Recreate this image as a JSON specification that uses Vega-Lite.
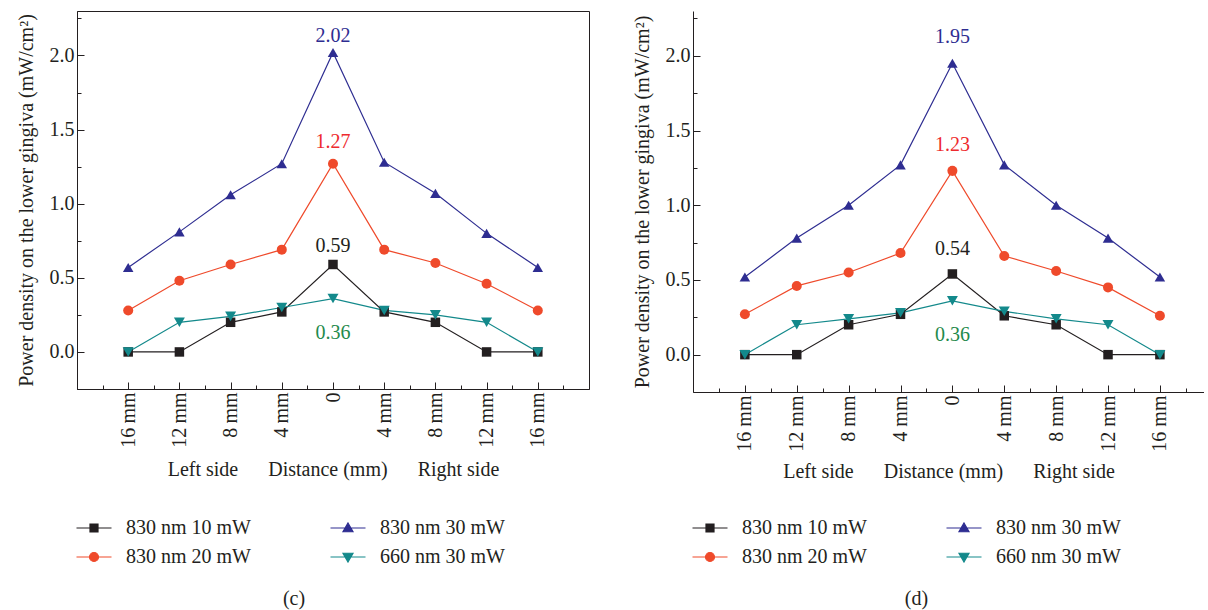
{
  "$schema": "https://vega.github.io/schema/vega-lite/v6.json",
  "padding": {"left": 15, "top": 10, "right": 0, "bottom": 0},
  "datasets": {
    "c": [
      {"x": -16, "s": "830 nm 10 mW", "v": 0}, {"x": -12, "s": "830 nm 10 mW", "v": 0}, {"x": -8, "s": "830 nm 10 mW", "v": 0.2}, {"x": -4, "s": "830 nm 10 mW", "v": 0.27}, {"x": 0, "s": "830 nm 10 mW", "v": 0.59}, {"x": 4, "s": "830 nm 10 mW", "v": 0.27}, {"x": 8, "s": "830 nm 10 mW", "v": 0.2}, {"x": 12, "s": "830 nm 10 mW", "v": 0}, {"x": 16, "s": "830 nm 10 mW", "v": 0},
      {"x": -16, "s": "830 nm 20 mW", "v": 0.28}, {"x": -12, "s": "830 nm 20 mW", "v": 0.48}, {"x": -8, "s": "830 nm 20 mW", "v": 0.59}, {"x": -4, "s": "830 nm 20 mW", "v": 0.69}, {"x": 0, "s": "830 nm 20 mW", "v": 1.27}, {"x": 4, "s": "830 nm 20 mW", "v": 0.69}, {"x": 8, "s": "830 nm 20 mW", "v": 0.6}, {"x": 12, "s": "830 nm 20 mW", "v": 0.46}, {"x": 16, "s": "830 nm 20 mW", "v": 0.28},
      {"x": -16, "s": "830 nm 30 mW", "v": 0.57}, {"x": -12, "s": "830 nm 30 mW", "v": 0.81}, {"x": -8, "s": "830 nm 30 mW", "v": 1.06}, {"x": -4, "s": "830 nm 30 mW", "v": 1.27}, {"x": 0, "s": "830 nm 30 mW", "v": 2.02}, {"x": 4, "s": "830 nm 30 mW", "v": 1.28}, {"x": 8, "s": "830 nm 30 mW", "v": 1.07}, {"x": 12, "s": "830 nm 30 mW", "v": 0.8}, {"x": 16, "s": "830 nm 30 mW", "v": 0.57},
      {"x": -16, "s": "660 nm 30 mW", "v": 0}, {"x": -12, "s": "660 nm 30 mW", "v": 0.2}, {"x": -8, "s": "660 nm 30 mW", "v": 0.24}, {"x": -4, "s": "660 nm 30 mW", "v": 0.3}, {"x": 0, "s": "660 nm 30 mW", "v": 0.36}, {"x": 4, "s": "660 nm 30 mW", "v": 0.28}, {"x": 8, "s": "660 nm 30 mW", "v": 0.25}, {"x": 12, "s": "660 nm 30 mW", "v": 0.2}, {"x": 16, "s": "660 nm 30 mW", "v": 0}
    ],
    "d": [
      {"x": -16, "s": "830 nm 10 mW", "v": 0}, {"x": -12, "s": "830 nm 10 mW", "v": 0}, {"x": -8, "s": "830 nm 10 mW", "v": 0.2}, {"x": -4, "s": "830 nm 10 mW", "v": 0.27}, {"x": 0, "s": "830 nm 10 mW", "v": 0.54}, {"x": 4, "s": "830 nm 10 mW", "v": 0.26}, {"x": 8, "s": "830 nm 10 mW", "v": 0.2}, {"x": 12, "s": "830 nm 10 mW", "v": 0}, {"x": 16, "s": "830 nm 10 mW", "v": 0},
      {"x": -16, "s": "830 nm 20 mW", "v": 0.27}, {"x": -12, "s": "830 nm 20 mW", "v": 0.46}, {"x": -8, "s": "830 nm 20 mW", "v": 0.55}, {"x": -4, "s": "830 nm 20 mW", "v": 0.68}, {"x": 0, "s": "830 nm 20 mW", "v": 1.23}, {"x": 4, "s": "830 nm 20 mW", "v": 0.66}, {"x": 8, "s": "830 nm 20 mW", "v": 0.56}, {"x": 12, "s": "830 nm 20 mW", "v": 0.45}, {"x": 16, "s": "830 nm 20 mW", "v": 0.26},
      {"x": -16, "s": "830 nm 30 mW", "v": 0.52}, {"x": -12, "s": "830 nm 30 mW", "v": 0.78}, {"x": -8, "s": "830 nm 30 mW", "v": 1.0}, {"x": -4, "s": "830 nm 30 mW", "v": 1.27}, {"x": 0, "s": "830 nm 30 mW", "v": 1.95}, {"x": 4, "s": "830 nm 30 mW", "v": 1.27}, {"x": 8, "s": "830 nm 30 mW", "v": 1.0}, {"x": 12, "s": "830 nm 30 mW", "v": 0.78}, {"x": 16, "s": "830 nm 30 mW", "v": 0.52},
      {"x": -16, "s": "660 nm 30 mW", "v": 0}, {"x": -12, "s": "660 nm 30 mW", "v": 0.2}, {"x": -8, "s": "660 nm 30 mW", "v": 0.24}, {"x": -4, "s": "660 nm 30 mW", "v": 0.28}, {"x": 0, "s": "660 nm 30 mW", "v": 0.36}, {"x": 4, "s": "660 nm 30 mW", "v": 0.29}, {"x": 8, "s": "660 nm 30 mW", "v": 0.24}, {"x": 12, "s": "660 nm 30 mW", "v": 0.2}, {"x": 16, "s": "660 nm 30 mW", "v": 0}
    ]
  },
  "hconcat": [
    {
      "width": 512,
      "height": 378,
      "data": {"name": "c"},
      "title": {"text": "(c)", "orient": "bottom", "offset": 22, "dx": -39},
      "resolve": {"scale": {"shape": "independent", "fill": "independent", "stroke": "independent", "size": "independent"}},
      "encoding": {
        "x": {"field": "x", "type": "quantitative", "scale": {"domain": [-20, 20], "nice": false, "zero": false},
          "axis": {"values": [-18,-16,-14,-12,-10,-8,-6,-4,-2,0,2,4,6,8,10,12,14,16,18],
            "labelExpr": "datum.value % 4 !== 0 ? '' : datum.value === 0 ? '0' : abs(datum.value) + '\u2009mm'",
            "labelAngle": -90, "labelAlign": "right", "labelBaseline": "middle",
            "tickSize": {"condition": {"test": "datum.value % 4 !== 0", "value": -4}, "value": -7},
            "labelPadding": 10,
            "title": "Left side\u00a0\u00a0\u00a0\u00a0\u00a0\u00a0Distance (mm)\u00a0\u00a0\u00a0\u00a0\u00a0\u00a0Right side",
            "titlePadding": 12}},
        "y": {"field": "v", "type": "quantitative", "scale": {"domain": [-0.25, 2.3], "nice": false, "zero": false},
          "axis": {"values": [-0.25,0,0.25,0.5,0.75,1,1.25,1.5,1.75,2,2.25],
            "labelExpr": "datum.value % 0.5 !== 0 ? '' : format(datum.value, '.1f')",
            "tickSize": {"condition": {"test": "datum.value % 0.5 !== 0", "value": -4}, "value": -7},
            "labelPadding": 10,
            "title": "Power density on the lower gingiva (mW/cm²)",
            "titlePadding": 13}},
        "color": {"field": "s", "type": "nominal", "legend": null,
          "scale": {"domain": ["830 nm 10 mW", "830 nm 20 mW", "830 nm 30 mW", "660 nm 30 mW"], "range": ["#231f20", "#ef4a2b", "#2e2d91", "#13898b"]}}
      },
      "layer": [
        {"mark": {"type": "line", "strokeWidth": 1.2}},
        {"mark": {"type": "point", "filled": true, "opacity": 1},
          "encoding": {
            "shape": {"field": "s", "type": "nominal", "legend": null,
              "scale": {"domain": ["830 nm 10 mW", "830 nm 20 mW", "830 nm 30 mW", "660 nm 30 mW"], "range": ["square", "circle", "triangle-up", "triangle-down"]}},
            "size": {"field": "s", "type": "nominal", "legend": null,
              "scale": {"domain": ["830 nm 10 mW", "830 nm 20 mW", "830 nm 30 mW", "660 nm 30 mW"], "range": [90, 121, 170, 170]}}}},
        {"transform": [{"filter": "false"}],
          "mark": {"type": "point", "filled": true, "opacity": 1},
          "encoding": {
            "fill": {"field": "s", "type": "nominal",
              "scale": {"domain": ["830 nm 10 mW", "830 nm 20 mW", "830 nm 30 mW", "660 nm 30 mW"], "range": ["#231f20", "#ef4a2b", "#2e2d91", "#13898b"]},
              "legend": {"orient": "none", "legendX": 7, "legendY": 507, "columns": 2, "columnPadding": 77, "rowPadding": 9, "symbolSize": 100, "symbolStrokeWidth": 1.2, "labelOffset": 22, "title": null, "padding": 0}},
            "stroke": {"field": "s", "type": "nominal",
              "scale": {"domain": ["830 nm 10 mW", "830 nm 20 mW", "830 nm 30 mW", "660 nm 30 mW"], "range": ["#231f20", "#ef4a2b", "#2e2d91", "#13898b"]},
              "legend": {"orient": "none", "legendX": 7, "legendY": 507, "columns": 2, "columnPadding": 77, "rowPadding": 9, "symbolSize": 100, "symbolStrokeWidth": 1.2, "labelOffset": 22, "title": null, "padding": 0}},
            "shape": {"field": "s", "type": "nominal",
              "scale": {"domain": ["830 nm 10 mW", "830 nm 20 mW", "830 nm 30 mW", "660 nm 30 mW"], "range": ["M-3.5,0H3.5M-0.8,-0.8H0.8V0.8H-0.8Z", "M-3.5,0H3.5M-0.9,0A0.9,0.9,0,1,0,0.9,0A0.9,0.9,0,1,0,-0.9,0Z", "M-3.5,0H3.5M0,-1L1,0.75L-1,0.75Z", "M-3.5,0H3.5M0,1L1,-0.75L-1,-0.75Z"]},
              "legend": {"orient": "none", "legendX": 7, "legendY": 507, "columns": 2, "columnPadding": 77, "rowPadding": 9, "symbolSize": 100, "symbolStrokeWidth": 1.2, "labelOffset": 22, "title": null, "padding": 0}}}},
        {"transform": [{"filter": "datum.x === 0 && datum.s === '830 nm 30 mW'"}],
          "mark": {"type": "text", "baseline": "bottom", "dy": -7, "fontSize": 20},
          "encoding": {"text": {"field": "v", "format": ".2f"}, "color": {"value": "#2e2d91"}}},
        {"transform": [{"filter": "datum.x === 0 && datum.s === '830 nm 20 mW'"}],
          "mark": {"type": "text", "baseline": "bottom", "dy": -12, "fontSize": 20},
          "encoding": {"text": {"field": "v", "format": ".2f"}, "color": {"value": "#ee2a2e"}}},
        {"transform": [{"filter": "datum.x === 0 && datum.s === '830 nm 10 mW'"}],
          "mark": {"type": "text", "baseline": "bottom", "dy": -8, "fontSize": 20},
          "encoding": {"text": {"field": "v", "format": ".2f"}, "color": {"value": "#231f20"}}},
        {"transform": [{"filter": "datum.x === 0 && datum.s === '660 nm 30 mW'"}],
          "mark": {"type": "text", "baseline": "top", "dy": 24, "fontSize": 20},
          "encoding": {"text": {"field": "v", "format": ".2f"}, "color": {"value": "#1f8a4c"}}}
      ]
    },
    {
      "width": 511,
      "height": 381,
      "view": {"stroke": null},
      "data": {"name": "d"},
      "title": {"text": "(d)", "orient": "bottom", "offset": 22, "dx": -32},
      "resolve": {"scale": {"shape": "independent", "fill": "independent", "stroke": "independent", "size": "independent"}},
      "encoding": {
        "x": {"field": "x", "type": "quantitative", "scale": {"domain": [-20, 19.4], "nice": false, "zero": false},
          "axis": {"values": [-18,-16,-14,-12,-10,-8,-6,-4,-2,0,2,4,6,8,10,12,14,16,18],
            "labelExpr": "datum.value % 4 !== 0 ? '' : datum.value === 0 ? '0' : abs(datum.value) + ' mm'",
            "labelAngle": -90, "labelAlign": "right", "labelBaseline": "middle",
            "tickSize": {"condition": {"test": "datum.value % 4 !== 0", "value": -4}, "value": -7},
            "labelPadding": 10,
            "title": "Left side\u00a0\u00a0\u00a0\u00a0\u00a0\u00a0Distance (mm)\u00a0\u00a0\u00a0\u00a0\u00a0\u00a0Right side",
            "titlePadding": 10}},
        "y": {"field": "v", "type": "quantitative", "scale": {"domain": [-0.25, 2.3], "nice": false, "zero": false},
          "axis": {"values": [-0.25,0,0.25,0.5,0.75,1,1.25,1.5,1.75,2,2.25],
            "labelExpr": "datum.value % 0.5 !== 0 ? '' : format(datum.value, '.1f')",
            "tickSize": {"condition": {"test": "datum.value % 0.5 !== 0", "value": -4}, "value": -7},
            "labelPadding": 10,
            "title": "Power density on the lower gingiva (mW/cm²)",
            "titlePadding": 13}},
        "color": {"field": "s", "type": "nominal", "legend": null,
          "scale": {"domain": ["830 nm 10 mW", "830 nm 20 mW", "830 nm 30 mW", "660 nm 30 mW"], "range": ["#231f20", "#ef4a2b", "#2e2d91", "#13898b"]}}
      },
      "layer": [
        {"data": {"values": [{}]}, "mark": {"type": "rule", "strokeWidth": 1},
          "encoding": {"y": {"datum": 2.3}, "color": {"value": "#231f20"}, "x": {"datum": -20}, "x2": {"datum": 19.4}}},
        {"mark": {"type": "line", "strokeWidth": 1.2}},
        {"mark": {"type": "point", "filled": true, "opacity": 1},
          "encoding": {
            "shape": {"field": "s", "type": "nominal", "legend": null,
              "scale": {"domain": ["830 nm 10 mW", "830 nm 20 mW", "830 nm 30 mW", "660 nm 30 mW"], "range": ["square", "circle", "triangle-up", "triangle-down"]}},
            "size": {"field": "s", "type": "nominal", "legend": null,
              "scale": {"domain": ["830 nm 10 mW", "830 nm 20 mW", "830 nm 30 mW", "660 nm 30 mW"], "range": [90, 121, 170, 170]}}}},
        {"transform": [{"filter": "false"}],
          "mark": {"type": "point", "filled": true, "opacity": 1},
          "encoding": {
            "fill": {"field": "s", "type": "nominal",
              "scale": {"domain": ["830 nm 10 mW", "830 nm 20 mW", "830 nm 30 mW", "660 nm 30 mW"], "range": ["#231f20", "#ef4a2b", "#2e2d91", "#13898b"]},
              "legend": {"orient": "none", "legendX": 7, "legendY": 507, "columns": 2, "columnPadding": 77, "rowPadding": 9, "symbolSize": 100, "symbolStrokeWidth": 1.2, "labelOffset": 22, "title": null, "padding": 0}},
            "stroke": {"field": "s", "type": "nominal",
              "scale": {"domain": ["830 nm 10 mW", "830 nm 20 mW", "830 nm 30 mW", "660 nm 30 mW"], "range": ["#231f20", "#ef4a2b", "#2e2d91", "#13898b"]},
              "legend": {"orient": "none", "legendX": 7, "legendY": 507, "columns": 2, "columnPadding": 77, "rowPadding": 9, "symbolSize": 100, "symbolStrokeWidth": 1.2, "labelOffset": 22, "title": null, "padding": 0}},
            "shape": {"field": "s", "type": "nominal",
              "scale": {"domain": ["830 nm 10 mW", "830 nm 20 mW", "830 nm 30 mW", "660 nm 30 mW"], "range": ["M-3.5,0H3.5M-0.8,-0.8H0.8V0.8H-0.8Z", "M-3.5,0H3.5M-0.9,0A0.9,0.9,0,1,0,0.9,0A0.9,0.9,0,1,0,-0.9,0Z", "M-3.5,0H3.5M0,-1L1,0.75L-1,0.75Z", "M-3.5,0H3.5M0,1L1,-0.75L-1,-0.75Z"]},
              "legend": {"orient": "none", "legendX": 7, "legendY": 507, "columns": 2, "columnPadding": 77, "rowPadding": 9, "symbolSize": 100, "symbolStrokeWidth": 1.2, "labelOffset": 22, "title": null, "padding": 0}}}},
        {"transform": [{"filter": "datum.x === 0 && datum.s === '830 nm 30 mW'"}],
          "mark": {"type": "text", "baseline": "bottom", "dy": -16, "fontSize": 20},
          "encoding": {"text": {"field": "v", "format": ".2f"}, "color": {"value": "#2e2d91"}}},
        {"transform": [{"filter": "datum.x === 0 && datum.s === '830 nm 20 mW'"}],
          "mark": {"type": "text", "baseline": "bottom", "dy": -16, "fontSize": 20},
          "encoding": {"text": {"field": "v", "format": ".2f"}, "color": {"value": "#ee2a2e"}}},
        {"transform": [{"filter": "datum.x === 0 && datum.s === '830 nm 10 mW'"}],
          "mark": {"type": "text", "baseline": "bottom", "dy": -15, "fontSize": 20},
          "encoding": {"text": {"field": "v", "format": ".2f"}, "color": {"value": "#231f20"}}},
        {"transform": [{"filter": "datum.x === 0 && datum.s === '660 nm 30 mW'"}],
          "mark": {"type": "text", "baseline": "top", "dy": 24, "fontSize": 20},
          "encoding": {"text": {"field": "v", "format": ".2f"}, "color": {"value": "#1f8a4c"}}}
      ]
    }
  ],
  "spacing": 42,
  "resolve": {"scale": {"color": "independent", "shape": "independent", "fill": "independent", "stroke": "independent", "size": "independent"}},
  "config": {
    "font": "Liberation Serif",
    "view": {"stroke": "#231f20", "strokeWidth": 1},
    "axis": {"domainColor": "#231f20", "tickColor": "#231f20", "labelColor": "#231f20", "titleColor": "#231f20",
      "labelFont": "Liberation Serif", "titleFont": "Liberation Serif", "labelFontSize": 20, "titleFontSize": 20,
      "titleFontWeight": "normal", "grid": false, "domainWidth": 1, "tickWidth": 1},
    "legend": {"labelFont": "Liberation Serif", "labelFontSize": 20, "labelColor": "#231f20", "symbolStrokeWidth": 1.2, "symbolOpacity": 1},
    "title": {"font": "Liberation Serif", "fontSize": 20, "fontWeight": "normal", "color": "#231f20"},
    "text": {"font": "Liberation Serif"}
  }
}
